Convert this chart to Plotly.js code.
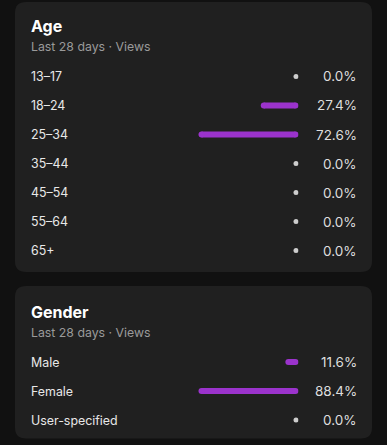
<!DOCTYPE html>
<html>
<head>
<meta charset="utf-8">
<script src="https://cdn.plot.ly/plotly-3.0.1.min.js"></script>
<style>html,body{margin:0;padding:0;background:#111111;}#chart{width:387px;height:445px;}</style>
</head>
<body>
<div id="chart"></div>
<script>
// ---- data ----
const ageTitle = 'Age';
const genderTitle = 'Gender';
const subtitleText = 'Last 28 days · Views';
const ageLabels = ['13–17', '18–24', '25–34', '35–44', '45–54', '55–64', '65+'];
const ageValues = [0, 27.4, 72.6, 0, 0, 0, 0];
const genderLabels = ['Male', 'Female', 'User-specified'];
const genderValues = [11.6, 88.4, 0];

// ---- geometry / style ----
const W = 387, H = 445;
const FONT = 'Inter, "Noto Sans", sans-serif';
const PURPLE = '#9b33cc';
const DOT = '#cdcdcd';
const px2x = p => p / W;
const px2y = p => 1 - p / H;

const barRight = 298.5, plotLeft = 150, maxBarPx = 100, barThick = 6, dotGap = 2.5;
const textLeft = 28.5, textRight = 359;

function panel(labels, values, xa, ya, topPx, rowH) {
  const n = labels.length;
  const s = maxBarPx / Math.max(...values);   // px per percent
  const r = (barThick / 2) / s;               // cap radius in data units
  const bx = [], by = [], dx = [], dy = [];
  values.forEach((v, i) => {
    if (v > 0) { bx.push(r, v - r, null); by.push(labels[i], labels[i], null); }
    else { dx.push(dotGap / s); dy.push(labels[i]); }
  });
  const traces = [
    {type: 'scatter', mode: 'lines+markers', x: bx, y: by, xaxis: xa, yaxis: ya,
     line: {color: PURPLE, width: barThick}, marker: {color: PURPLE, size: barThick, line: {width: 0}},
     hoverinfo: 'skip', showlegend: false, connectgaps: false},
    {type: 'scatter', mode: 'markers', x: dx, y: dy, xaxis: xa, yaxis: ya,
     marker: {color: DOT, size: 5, line: {width: 0}}, hoverinfo: 'skip', showlegend: false}
  ];
  const xaxis = {domain: [px2x(plotLeft), px2x(barRight)], range: [(barRight - plotLeft) / s, 0],
    visible: false, fixedrange: true, anchor: ya};
  const yaxis = {domain: [px2y(topPx + rowH * n), px2y(topPx)], type: 'category',
    categoryorder: 'array', categoryarray: labels, range: [n - 0.5, -0.5],
    visible: false, fixedrange: true, anchor: xa};
  const ann = [];
  labels.forEach((lab, i) => {
    ann.push({xref: 'paper', yref: ya, x: px2x(textLeft), y: i, xanchor: 'left', yanchor: 'middle',
      text: lab, showarrow: false, font: {family: FONT, size: 12.4, color: '#e8e8e8'}});
    ann.push({xref: 'paper', yref: ya, x: px2x(textRight), y: i, xanchor: 'right', yanchor: 'middle',
      text: values[i].toFixed(1) + '%', showarrow: false, font: {family: FONT, size: 13.5, color: '#dedede'}});
  });
  return {traces, xaxis, yaxis, ann};
}

const p1 = panel(ageLabels, ageValues, 'x', 'y', 62, 29);
const p2 = panel(genderLabels, genderValues, 'x2', 'y2', 347.6, 29);

function roundRect(x0, y0, x1, y1, rad) {
  const rx = rad / W, ry = rad / H;
  const X0 = px2x(x0), X1 = px2x(x1), Yt = px2y(y0), Yb = px2y(y1);
  return `M ${X0 + rx},${Yt} L ${X1 - rx},${Yt} Q ${X1},${Yt} ${X1},${Yt - ry} ` +
    `L ${X1},${Yb + ry} Q ${X1},${Yb} ${X1 - rx},${Yb} L ${X0 + rx},${Yb} ` +
    `Q ${X0},${Yb} ${X0},${Yb + ry} L ${X0},${Yt - ry} Q ${X0},${Yt} ${X0 + rx},${Yt} Z`;
}

const titleAnn = (txt, yPx) => ({xref: 'paper', yref: 'paper', x: px2x(textLeft), y: px2y(yPx),
  xanchor: 'left', yanchor: 'middle', text: '<b>' + txt + '</b>', showarrow: false,
  font: {family: FONT, size: 16, color: '#ffffff'}});
const subAnn = (yPx) => ({xref: 'paper', yref: 'paper', x: px2x(textLeft), y: px2y(yPx),
  xanchor: 'left', yanchor: 'middle', text: subtitleText, showarrow: false,
  font: {family: FONT, size: 12.3, color: '#9a9a9a'}});

const layout = {
  width: W, height: H, margin: {l: 0, r: 0, t: 0, b: 0},
  paper_bgcolor: '#111111', plot_bgcolor: 'rgba(0,0,0,0)',
  xaxis: p1.xaxis, yaxis: p1.yaxis, xaxis2: p2.xaxis, yaxis2: p2.yaxis,
  shapes: [
    {type: 'path', xref: 'paper', yref: 'paper', path: roundRect(15, 2, 372, 272, 11),
     fillcolor: '#202020', line: {width: 0}, layer: 'below'},
    {type: 'path', xref: 'paper', yref: 'paper', path: roundRect(15, 286, 372, 438.5, 11),
     fillcolor: '#202020', line: {width: 0}, layer: 'below'}
  ],
  annotations: [titleAnn(ageTitle, 26), subAnn(47), titleAnn(genderTitle, 311.5), subAnn(332.5)]
    .concat(p1.ann, p2.ann),
  showlegend: false
};

Plotly.newPlot('chart', p1.traces.concat(p2.traces), layout, {displayModeBar: false, staticPlot: true});
</script>
</body>
</html>
